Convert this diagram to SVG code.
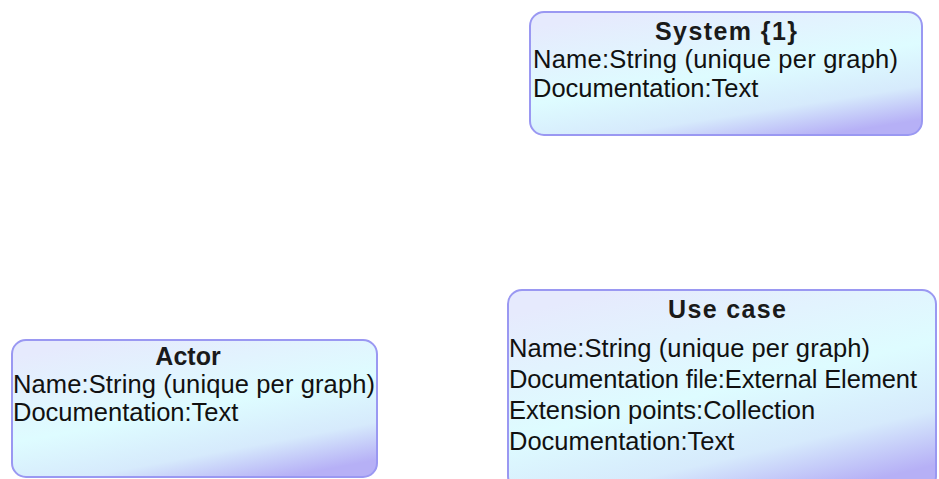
<svg xmlns="http://www.w3.org/2000/svg" width="939" height="479" viewBox="0 0 939 479">
  <style>
    .box { stroke: #9a98f2; stroke-width: 2; fill: url(#boxFill); }
    .title { font-family: "Liberation Sans", Arial, sans-serif; font-weight: bold; font-size: 25px; fill: #1a1a1a; text-anchor: middle; }
    .attr { font-family: "Liberation Sans", Arial, sans-serif; font-size: 25.5px; fill: #111; }
  </style>
  <defs>
    <linearGradient id="boxFill" x1="0.25" y1="0" x2="0.75" y2="1">
      <stop offset="0" stop-color="#e6eafd"/>
      <stop offset="0.5" stop-color="#defcff"/>
      <stop offset="0.78" stop-color="#d6eafc"/>
      <stop offset="1" stop-color="#b6b0f6"/>
    </linearGradient>
  </defs>

  <g id="system">
    <rect class="box" x="530" y="12" width="392" height="123" rx="14"/>
    <text class="title" x="726" y="40" textLength="142">System {1}</text>
    <text class="attr" x="533" y="68" textLength="365">Name:String (unique per graph)</text>
    <text class="attr" x="533" y="97">Documentation:Text</text>
  </g>

  <g id="actor">
    <rect class="box" x="12" y="340" width="365" height="137" rx="14"/>
    <text class="title" x="188" y="365">Actor</text>
    <text class="attr" x="13" y="393" textLength="362">Name:String (unique per graph)</text>
    <text class="attr" x="13" y="421">Documentation:Text</text>
  </g>

  <g id="use-case">
    <rect class="box" x="508" y="290" width="428" height="200" rx="14"/>
    <text class="title" x="727" y="318" textLength="118">Use case</text>
    <text class="attr" x="509" y="357" textLength="361">Name:String (unique per graph)</text>
    <text class="attr" x="509" y="388" textLength="408">Documentation file:External Element</text>
    <text class="attr" x="509" y="419">Extension points:Collection</text>
    <text class="attr" x="509" y="450">Documentation:Text</text>
  </g>

  <g id="connectors"/>
</svg>
